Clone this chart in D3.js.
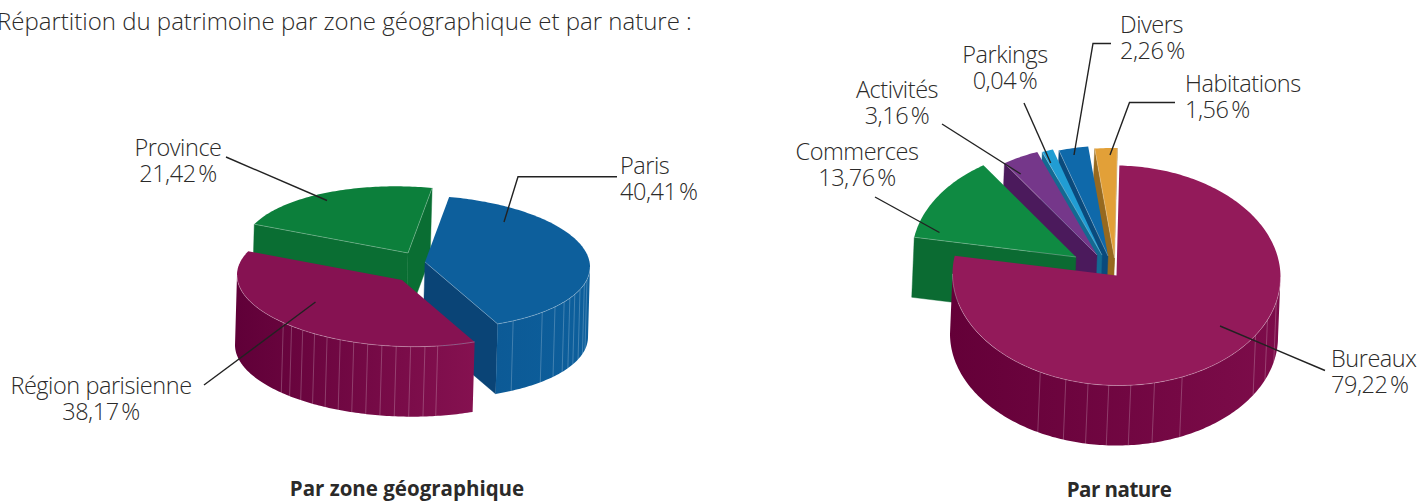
<!doctype html>
<html>
<head>
    <meta charset="utf-8" />
    <style>
        body {
            margin: 0;
            background: #fff;
            overflow: hidden;
        }

        svg {
            display: block;
        }

        text {
            font-family: 'Open Sans', sans-serif;
            font-weight: 300;
            font-size: 23.5px;
            letter-spacing: -0.45px;
            fill: #2b2a29;
        }

        text.heading {
            font-size: 24px;
            letter-spacing: 0;
        }

        text.caption {
            font-size: 20.5px;
            font-weight: 700;
            text-anchor: middle;
        }

        tspan.pct {
            word-spacing: -3px;
        }

        .leader {
            fill: none;
            stroke: #222;
            stroke-width: 1.4;
        }

        .rim {
            fill: none;
            stroke: #fff;
            stroke-opacity: 0.35;
            stroke-width: 0.8;
        }

        .facet {
            stroke: #fff;
            stroke-opacity: 0.22;
            stroke-width: 1;
        }
    </style>
    <script src="https://d3js.org/d3.v7.min.js"></script>
</head>
<body>
<svg width="1420" height="501"></svg>
<script>
    const zoneNames = ['Province', 'Paris', 'Région parisienne']
    const zoneValues = [21.42, 40.41, 38.17]

    const natureNames = ['Bureaux', 'Commerces', 'Activités', 'Parkings', 'Divers', 'Habitations']
    const natureValues = [79.22, 13.76, 3.16, 0.04, 2.26, 1.56]
    // the slices on the picture do not follow the printed figures, this is what they measure
    const natureDrawn = [77.2, 12.8, 3.6, 1.1, 2.9, 2.2]

    const fmt = (v) => v.toFixed(2).replace('.', ',') + ' %'
    const rad = (deg) => deg * Math.PI / 180

    const svg = d3.select('svg')
    const defs = svg.append('defs')

    // draws one exploded pie, slices given in clockwise order
    function drawPie(cfg) {
        const arcs = d3.pie().sort(null)
            .startAngle(rad(cfg.start))
            .endAngle(rad(cfg.start + 360))(cfg.values)

        const project = (s, a, r, down) => [
            s.cx + r * cfg.rx * Math.sin(a) + down * cfg.shear,
            s.cy - r * cfg.ry * Math.cos(a) + r * cfg.rx * cfg.tilt * Math.sin(a) + down * cfg.depth
        ]
        const line = d3.line()
        const rimPoints = (s, a0, a1, down) => {
            const n = Math.max(2, Math.ceil(Math.abs(a1 - a0) / rad(1)))
            return d3.range(n + 1).map((i) => project(s, a0 + (a1 - a0) * i / n, 1, down))
        }

        cfg.order.forEach((i) => {
            const arc = arcs[i]
            const s = cfg.slices[i]
            const g = svg.append('g')

            // cut faces: only the ones turned to the viewer
            const radial = (a) => line([
                project(s, a, 0, 0), project(s, a, 1, 0), project(s, a, 1, 1), project(s, a, 0, 1)
            ]) + 'Z'
            if (Math.sin(arc.startAngle) < 0) {
                g.append('path').attr('d', radial(arc.startAngle)).attr('fill', s.cut)
                    .attr('stroke', s.cut).attr('stroke-width', 0.4)
            }
            if (Math.sin(arc.endAngle) > 0) {
                g.append('path').attr('d', radial(arc.endAngle)).attr('fill', s.cut)
                    .attr('stroke', s.cut).attr('stroke-width', 0.4)
            }

            // outer wall, front half of the rim only (angles can run past a full turn)
            const front = [0, 360].map((turn) => [
                Math.max(arc.startAngle, rad(90 + turn)),
                Math.min(arc.endAngle, rad(270 + turn))
            ]).filter((r) => r[1] > r[0])

            front.forEach(([a0, a1], k) => {
                const id = 'wall' + cfg.id + i + k
                const grad = defs.append('linearGradient').attr('id', id)
                grad.append('stop').attr('offset', 0).attr('stop-color', s.wall[0])
                grad.append('stop').attr('offset', 1).attr('stop-color', s.wall[1])
                const pts = rimPoints(s, a0, a1, 0).concat(rimPoints(s, a1, a0, 1))
                g.append('path').attr('d', line(pts) + 'Z').attr('fill', `url(#${id})`)

                g.selectAll('line.facet')
                    .data((s.facets || []).map(rad))
                    .join('line')
                    .attr('class', 'facet')
                    .attr('x1', (a) => project(s, a, 1, 0)[0])
                    .attr('y1', (a) => project(s, a, 1, 0)[1])
                    .attr('x2', (a) => project(s, a, 1, 1)[0])
                    .attr('y2', (a) => project(s, a, 1, 1)[1])
            })

            // top face
            const top = [project(s, 0, 0, 0)].concat(rimPoints(s, arc.startAngle, arc.endAngle, 0))
            g.append('path').attr('d', line(top) + 'Z').attr('fill', s.top)

            front.forEach(([a0, a1]) => {
                g.append('path').attr('class', 'rim').attr('d', line(rimPoints(s, a0, a1, 0)))
            })
            if (Math.sin(arc.startAngle) < 0) {
                g.append('path').attr('class', 'rim')
                    .attr('d', line([project(s, arc.startAngle, 0, 0), project(s, arc.startAngle, 1, 0)]))
            }
            if (Math.sin(arc.endAngle) > 0) {
                g.append('path').attr('class', 'rim')
                    .attr('d', line([project(s, arc.endAngle, 0, 0), project(s, arc.endAngle, 1, 0)]))
            }
        })
    }

    drawPie({
        id: 'zone',
        values: zoneValues,
        start: 291.3,
        rx: 165, ry: 66.5, tilt: 0.03, depth: 70, shear: -2,
        order: [0, 1, 2],
        slices: [
            { cx: 408, cy: 253, top: '#0c7f3b', cut: '#0a6e33', wall: ['#0a6e33', '#0a6e33'] },
            {
                cx: 425, cy: 262, top: '#0d5f9c', cut: '#0a4476', wall: ['#0c5a96', '#0d5f9c'],
                facets: [147.7, 134.7, 128, 122.5, 118.6, 114.8, 110, 105, 101]
            },
            {
                cx: 402, cy: 280, top: '#861252', cut: '#600038', wall: ['#600038', '#851150'],
                facets: [167.5, 172, 177, 182, 187, 192, 197, 202, 207, 212, 217, 222, 226]
            }
        ]
    })

    drawPie({
        id: 'nature',
        values: natureDrawn,
        start: 1,
        rx: 164, ry: 110, tilt: 0.01, depth: 60, shear: -2.5,
        order: [5, 4, 3, 2, 1, 0],
        slices: [
            {
                cx: 1116.5, cy: 275.5, top: '#931a5a', cut: '#650038', wall: ['#640038', '#7d0c4a'],
                facets: [207.7, 198, 190, 182.7, 175, 166.6, 156.4, 122, 113, 103]
            },
            { cx: 1076, cy: 257, top: '#0f8a42', cut: '#0b6b32', wall: ['#0b6b32', '#0b6b32'] },
            { cx: 1097, cy: 255, top: '#75378a', cut: '#4b1a5c', wall: ['#4b1a5c', '#4b1a5c'] },
            { cx: 1102, cy: 255, top: '#219dd3', cut: '#136a92', wall: ['#136a92', '#136a92'] },
            { cx: 1108, cy: 256, top: '#0f69aa', cut: '#0a4a7c', wall: ['#0a4a7c', '#0a4a7c'] },
            { cx: 1114.5, cy: 258, top: '#e2a038', cut: '#96691f', wall: ['#96691f', '#96691f'] }
        ]
    })

    // leader lines
    const leaders = [
        [[226, 157], [327, 200.5]],
        [[617, 176.7], [518, 176.7], [504, 222]],
        [[204, 385], [315.5, 302]],
        [[875, 197], [939.5, 232.5]],
        [[942, 124], [1020.7, 174]],
        [[1024, 103], [1050.7, 163]],
        [[1111, 43.5], [1093, 43.5], [1074, 155]],
        [[1175, 102.5], [1129.5, 102.5], [1110, 155]],
        [[1220, 326], [1325, 370.5]]
    ]
    svg.selectAll('path.leader')
        .data(leaders)
        .join('path')
        .attr('class', 'leader')
        .attr('d', d3.line())

    function label(name, value, x, y, anchor) {
        const t = svg.append('text').attr('text-anchor', anchor)
        t.append('tspan').attr('x', x).attr('y', y).text(name)
        t.append('tspan').attr('class', 'pct').attr('x', x).attr('y', y + 26).text(fmt(value))
    }

    label(zoneNames[0], zoneValues[0], 178, 156, 'middle')
    label(zoneNames[1], zoneValues[1], 620, 174, 'start')
    label(zoneNames[2], zoneValues[2], 101, 394, 'middle')

    label(natureNames[0], natureValues[0], 1331, 367, 'start')
    label(natureNames[1], natureValues[1], 857, 160, 'middle')
    label(natureNames[2], natureValues[2], 897, 98, 'middle')
    label(natureNames[3], natureValues[3], 1005, 63, 'middle')
    label(natureNames[4], natureValues[4], 1120, 33, 'start')
    label(natureNames[5], natureValues[5], 1185, 92, 'start')

    svg.append('text')
        .attr('class', 'heading')
        .attr('x', -3)
        .attr('y', 30)
        .text('Répartition du patrimoine par zone géographique et par nature :')

    svg.append('text').attr('class', 'caption').attr('x', 407).attr('y', 496)
        .style('letter-spacing', '0').text('Par zone géographique')
    svg.append('text').attr('class', 'caption').attr('x', 1119).attr('y', 497)
        .style('letter-spacing', '-0.5px').text('Par nature')
</script>
</body>
</html>
